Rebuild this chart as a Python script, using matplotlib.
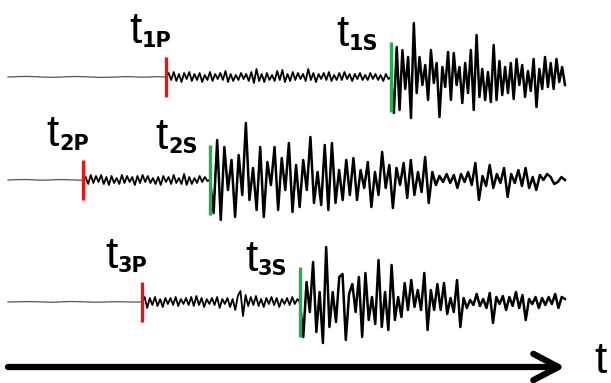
import numpy as np
import matplotlib
matplotlib.use("Agg")
import matplotlib.pyplot as plt

# arrival times (x, px) for the three stations
p_arrivals = [166, 83, 142]
s_arrivals = [391, 210, 300]
trace_start = 8
trace_end = 565
station_names = ["1", "2", "3"]

# pre-event noise (amplitude, px, up is positive)
pre1 = [0, 0.3, 0.6, 0.4, 0, -0.3, -0.2, 0.2, 0.5, 0.3, 0, -0.4, -0.3, 0, 0.4, 0.2, -0.2, 0, 0.3, 0]
pre2 = [0, 0.3, 0.5, 0.2, -0.2, 0, 0.4, 0.3, 0, -0.3]
pre3 = [0, 0.2, 0.4, 0.3, 0, -0.3, 0.2, 0.5, 0.3, 0, -0.2, 0, 0.3, 0.2, -0.1, 0]

# P coda (between P and S arrival)
coda1 = [0, 4, -3, 5, -4, 3, -5, 4, -2, 5, -4, 3, -3, 4, -5, 2, -3, 5, -4, 3, -2, 4, -3, 6,
         -5, 3, -4, 2, -3, 4, -2, 3, -4, 5, -6, 8, -4, 3, -5, 4, -3, 2, -4, 6, -3, 7, -5, 3,
         -4, 5, -3, 4, -2, 3, -4, 8, -3, 4, -5, 3, -2, 4, -3, 5, -4, 2, -3, 4, -3, 5, -2, 3,
         -4, 3, -2, 4, -3, 2, -3, 4, -2, 3, -3, 2, -4, 3, -2, 0]
coda2 = [0, 3, -4, 5, -3, 4, -2, 5, -4, 3, -5, 4, -3, 2, -4, 5, -3, 4, -2, 3, -5, 4, -3, 5,
         -2, 4, -3, 2, -4, 3, -5, 4, -2, 3, -4, 5, -3, 2, -4, 6, -5, 3, -4, 2, -3, 4, -2, 3, -1, 0]
coda3 = [0, 5, -6, 4, -3, 5, -4, 3, -5, 4, -2, 4, -3, 5, -4, 3, -2, 4, -3, 5, -4, 6, -3, 4,
         -5, 3, -2, 4, -3, 5, -6, 3, -2, 4, -5, 3, -8, 6, 11, -14, 7, -4, 5, -3, 6, -4, 3, -5,
         4, -2, 5, -3, 4, -5, 3, -2, 4, -3, 5, -2, 3, 0]

# S wave train (from S arrival to end of record)
s1 = [0, -36, 30, -33, 27, -12, 20, -41, 54, -16, 20, -8, 12, -23, 27, -6, 14, -40, 10, -10,
      25, -23, 24, -8, 10, -26, 14, -16, 27, -33, 42, -20, 8, -23, 5, -25, 32, -23, 16, -18,
      10, -16, 14, -22, 18, -8, 12, -20, 6, -14, 18, -30, 8, -12, 20, -10, 14, -12, 18, -5, 10, -8]
s2 = [0, -33, 40, -40, 33, -10, 20, -37, 25, -15, 57, -20, 12, -30, 33, -37, 18, -5, 33, -30,
      22, -10, 37, -32, 15, -27, 20, -10, 43, -23, 8, -25, 35, -30, 37, -23, 10, -20, 20, -15,
      22, -20, 10, -8, 18, -27, 8, -15, 28, -8, 15, -28, 12, -5, 17, -18, 20, -15, 8, -12,
      23, -23, 8, -5, 4, -2, 6, -3, 5, -8, 6, -2, 8, -5, 17, -20, 4, -6, 15, -8, 6, -3, 12,
      -17, 6, -3, 10, -6, 12, -8, 3, -10, 5, 0, 6, 3, -4, -2, 3, 0]
s3 = [0, -35, 20, -10, 40, -30, 10, -41, 55, -25, 10, -20, 25, 28, -38, 8, 18, -10, 25, -35,
      29, -18, 5, -22, 42, -25, 10, -28, 37, -18, 5, -15, 19, -8, 22, -5, 12, -8, 29, -28,
      12, -8, 18, -8, 19, -12, 4, -10, 22, -25, 4, -6, 2, -3, 8, -4, 3, -6, 9, -21, 5, -2,
      6, -8, 5, -4, 10, -6, 7, -18, 3, -2, 5, -6, 4, -3, 5, -2, 8, -6, 5, 3]

pres = [pre1, pre2, pre3]
codas = [coda1, coda2, coda3]
shakes = [s1, s2, s3]

# layout (pixels)
baselines = [77, 180, 302]
arrow_y = 367

fig = plt.figure(figsize=(6.11, 3.83), dpi=100)
ax = fig.add_axes([0, 0, 1, 1])
ax.set_xlim(0, 611)
ax.set_ylim(383, 0)
ax.axis("off")

for k in range(3):
    b = baselines[k]
    tp, ts = p_arrivals[k], s_arrivals[k]

    x_pre = np.linspace(trace_start, tp, len(pres[k]))
    ax.plot(x_pre, b - np.array(pres[k]), color="#555555", lw=0.9, zorder=2)

    x_coda = np.linspace(tp, ts, len(codas[k]))
    ax.plot(x_coda, b - np.array(codas[k]), color="black", lw=1.3, zorder=2,
            solid_joinstyle="round")
    x_s = np.linspace(ts, trace_end, len(shakes[k]))
    ax.plot(x_s, b - np.array(shakes[k]), color="black", lw=1.8, zorder=2,
            solid_joinstyle="round")

    # arrival markers
    ax.vlines(tp, b - 20, b + 20, color="#ee1111", lw=2.4, zorder=3)
    ax.vlines(ts, b - 35, b + 35, color="#22b14c", lw=2.4, zorder=3)

    # labels
    for t0, phase, dx, dy in [(tp, "P", -37, -34), (ts, "S", -55, -31)]:
        ax.text(t0 + dx, b + dy, "t", family="Liberation Sans", fontsize=32,
                ha="left", va="baseline")
        ax.text(t0 + dx + 13, b + dy + 4, station_names[k] + phase, family="DejaVu Sans",
                fontweight="bold", fontsize=15, ha="left", va="baseline")

# time axis arrow
ax.annotate("", xy=(565, arrow_y), xytext=(trace_start, arrow_y),
            arrowprops=dict(arrowstyle="->, head_length=1.8, head_width=0.95",
                            lw=4.5, color="black", shrinkA=0, shrinkB=0,
                            mutation_scale=10))
ax.text(594, 382, "t", family="Liberation Sans", fontsize=32, ha="left", va="bottom")

fig.savefig("out.png", dpi=100, facecolor="white")
